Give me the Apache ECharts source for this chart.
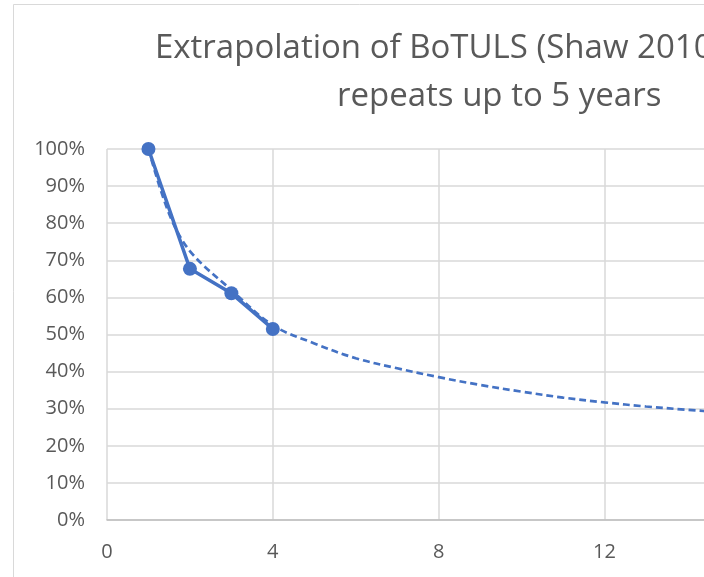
<!DOCTYPE html>
<html>
<head>
<meta charset="utf-8">
<script src="https://cdn.jsdelivr.net/npm/echarts/dist/echarts.min.js"></script>
<style>
html,body{margin:0;padding:0;background:#fff;}
#chart{width:704px;height:577px;}
</style>
</head>
<body>
<div id="chart"></div>
<script>
// Observed survival (BoTULS repeats)
const observedYears = [1, 2, 3, 4];
const observedSurvival = [1.00, 0.677, 0.611, 0.515];
// Dashed extrapolation (trend)
const trendYears = [1, 1.5, 2, 3, 4, 5, 6, 7, 8, 9, 10, 11, 12, 13, 14, 15];
const trendSurvival = [1.00, 0.825, 0.725, 0.62, 0.525, 0.476, 0.436, 0.409, 0.385, 0.364, 0.346, 0.330, 0.317, 0.306, 0.297, 0.289];
const titleLines = ["Extrapolation of BoTULS (Shaw 2010)", "repeats up to 5 years"];

const chart = echarts.init(document.getElementById('chart'), null, {renderer: 'canvas'});
const txt = '#595959';
chart.setOption({
  animation: false,
  backgroundColor: '#fff',
  graphic: [
    {type: 'rect', shape: {x: 13.5, y: 4.5, width: 900, height: 800}, style: {fill: 'none', stroke: '#d9d9d9', lineWidth: 1}, silent: true, z: -10},
    {type: 'text', left: 155, top: 32, style: {text: titleLines[0], font: '33px "Open Sans"', fill: txt}},
    {type: 'text', left: 337, top: 80, style: {text: titleLines[1], font: '33px "Open Sans"', fill: txt}}
  ],
  grid: {left: 107, top: 149, bottom: 57, right: 0, containLabel: false},
  xAxis: {
    type: 'value', min: 0, max: 14.4, interval: 4,
    axisLine: {show: true, lineStyle: {color: '#bfbfbf', width: 1.5}},
    axisTick: {show: false},
    axisLabel: {color: txt, fontSize: 20, fontFamily: 'Open Sans', margin: 22, showMaxLabel: false},
    splitLine: {show: true, showMaxLine: false, lineStyle: {color: '#d9d9d9', width: 1.5}}
  },
  yAxis: {
    type: 'value', min: 0, max: 1, interval: 0.1,
    axisLine: {show: false},
    axisTick: {show: false},
    axisLabel: {color: txt, fontSize: 20, fontFamily: 'Open Sans', margin: 22,
      formatter: v => Math.round(v * 100) + '%'},
    splitLine: {show: true, lineStyle: {color: '#d9d9d9', width: 1.5}}
  },
  series: [
    {
      name: 'Trend', type: 'line', smooth: 0.35, showSymbol: false, symbol: 'none',
      data: trendYears.map((x, i) => [x, trendSurvival[i]]),
      lineStyle: {color: '#4472C4', width: 2.7, type: [7, 4]}, z: 2
    },
    {
      name: 'Observed', type: 'line', symbol: 'circle', symbolSize: 14,
      data: observedYears.map((x, i) => [x, observedSurvival[i]]),
      lineStyle: {color: '#4472C4', width: 3.5},
      itemStyle: {color: '#4472C4'}, z: 3
    }
  ]
});
</script>
</body>
</html>
